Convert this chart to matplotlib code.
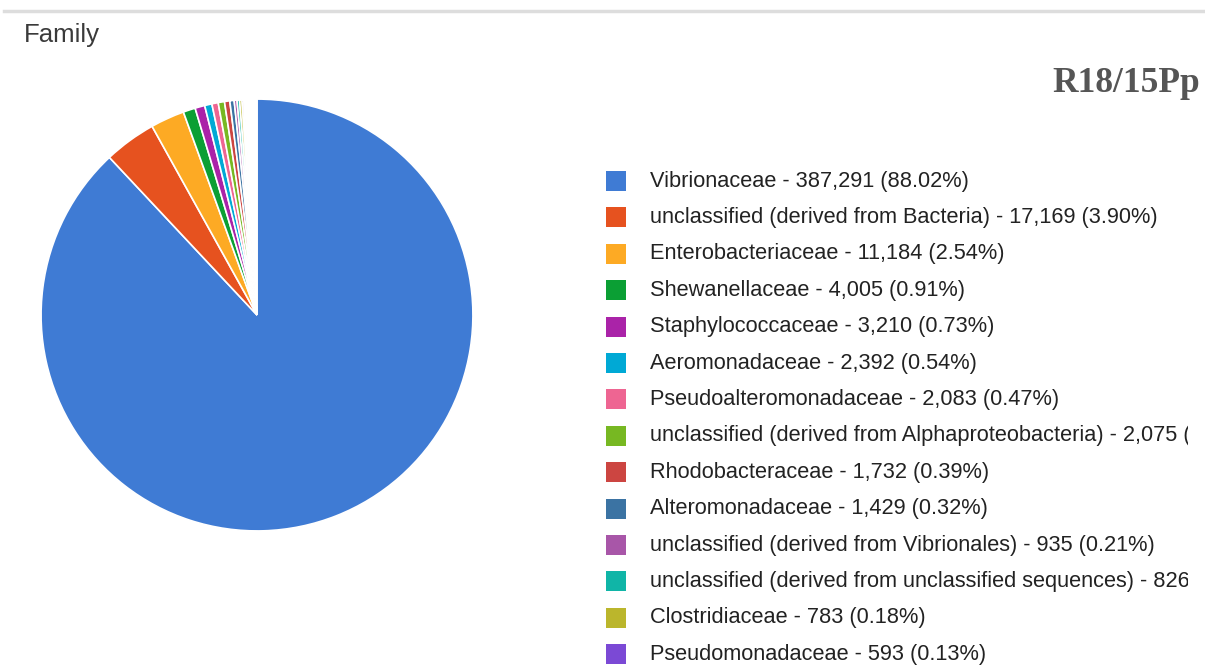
import matplotlib
matplotlib.use('Agg')
import matplotlib.pyplot as plt
from matplotlib.patches import Rectangle
from matplotlib.transforms import Bbox, TransformedBbox

plt.rcParams['font.family'] = ['Liberation Sans', 'DejaVu Sans']

# Familien (Lesewerte), Rest = nicht in der Legende sichtbar
families = ['Vibrionaceae',
            'unclassified (derived from Bacteria)',
            'Enterobacteriaceae',
            'Shewanellaceae',
            'Staphylococcaceae',
            'Aeromonadaceae',
            'Pseudoalteromonadaceae',
            'unclassified (derived from Alphaproteobacteria)',
            'Rhodobacteraceae',
            'Alteromonadaceae',
            'unclassified (derived from Vibrionales)',
            'unclassified (derived from unclassified sequences)',
            'Clostridiaceae',
            'Pseudomonadaceae']
counts = [387291, 17169, 11184, 4005, 3210, 2392, 2083, 2075,
          1732, 1429, 935, 826, 783, 593]
percents = ['88.02%', '3.90%', '2.54%', '0.91%', '0.73%', '0.54%', '0.47%',
            '0.47%', '0.39%', '0.32%', '0.21%', '0.19%', '0.18%', '0.13%']
rest = 4293
colors = ['#3f7bd4', '#e6521f', '#fdaa24', '#0b9f34', '#aa23a8', '#00a9d5',
          '#ee6592', '#77b822', '#cc4541', '#3b73a3', '#a856a8', '#10b5a7',
          '#bbb62c', '#7b49d5']

W, H = 1205, 668
fig = plt.figure(figsize=(W / 100, H / 100), dpi=100)

# Trennlinie oben + Titel
fig.add_artist(plt.Line2D([4 / W, 1], [1 - 11 / H, 1 - 11 / H],
                          color='#dddddd', lw=2.5))
fig.text(24 / W, 1 - 35 / H, 'Family', fontsize=18.5, color='#3a3a3a',
         va='center', ha='left')
fig.text(1200 / W, 1 - 84 / H, 'R18/15Pp', fontsize=25.5, color='#555555',
         fontweight='bold', family='Liberation Serif', ha='right', va='center')

# Torte
cx, cy, r = 257, 315, 217
ax = fig.add_axes([(cx - r) / W, 1 - (cy + r) / H, 2 * r / W, 2 * r / H])
ax.pie(counts + [rest], colors=colors + ['white'], startangle=90,
       counterclock=False, radius=1,
       wedgeprops=dict(edgecolor='white', linewidth=1.2))
ax.set_xlim(-1.005, 1.005)
ax.set_ylim(-1.005, 1.005)
ax.set_aspect('equal')
ax.axis('off')

# Legende (rechts abgeschnitten wie im Original)
clip = TransformedBbox(Bbox([[0, 0], [1188 / W, 1]]), fig.transFigure)
y0, dy = 181, 36.4
for i, (name, n, p, c) in enumerate(zip(families, counts, percents, colors)):
    y = y0 + i * dy
    fig.add_artist(Rectangle((606 / W, 1 - (y + 10) / H), 20 / W, 20 / H,
                             transform=fig.transFigure, color=c, lw=0))
    t = fig.text(650 / W, 1 - y / H, '{} - {:,} ({})'.format(name, n, p),
                 fontsize=15.7, color='#222222', va='center', ha='left')
    t.set_clip_box(clip)
    t.set_clip_on(True)

fig.savefig('out.png', dpi=100)
